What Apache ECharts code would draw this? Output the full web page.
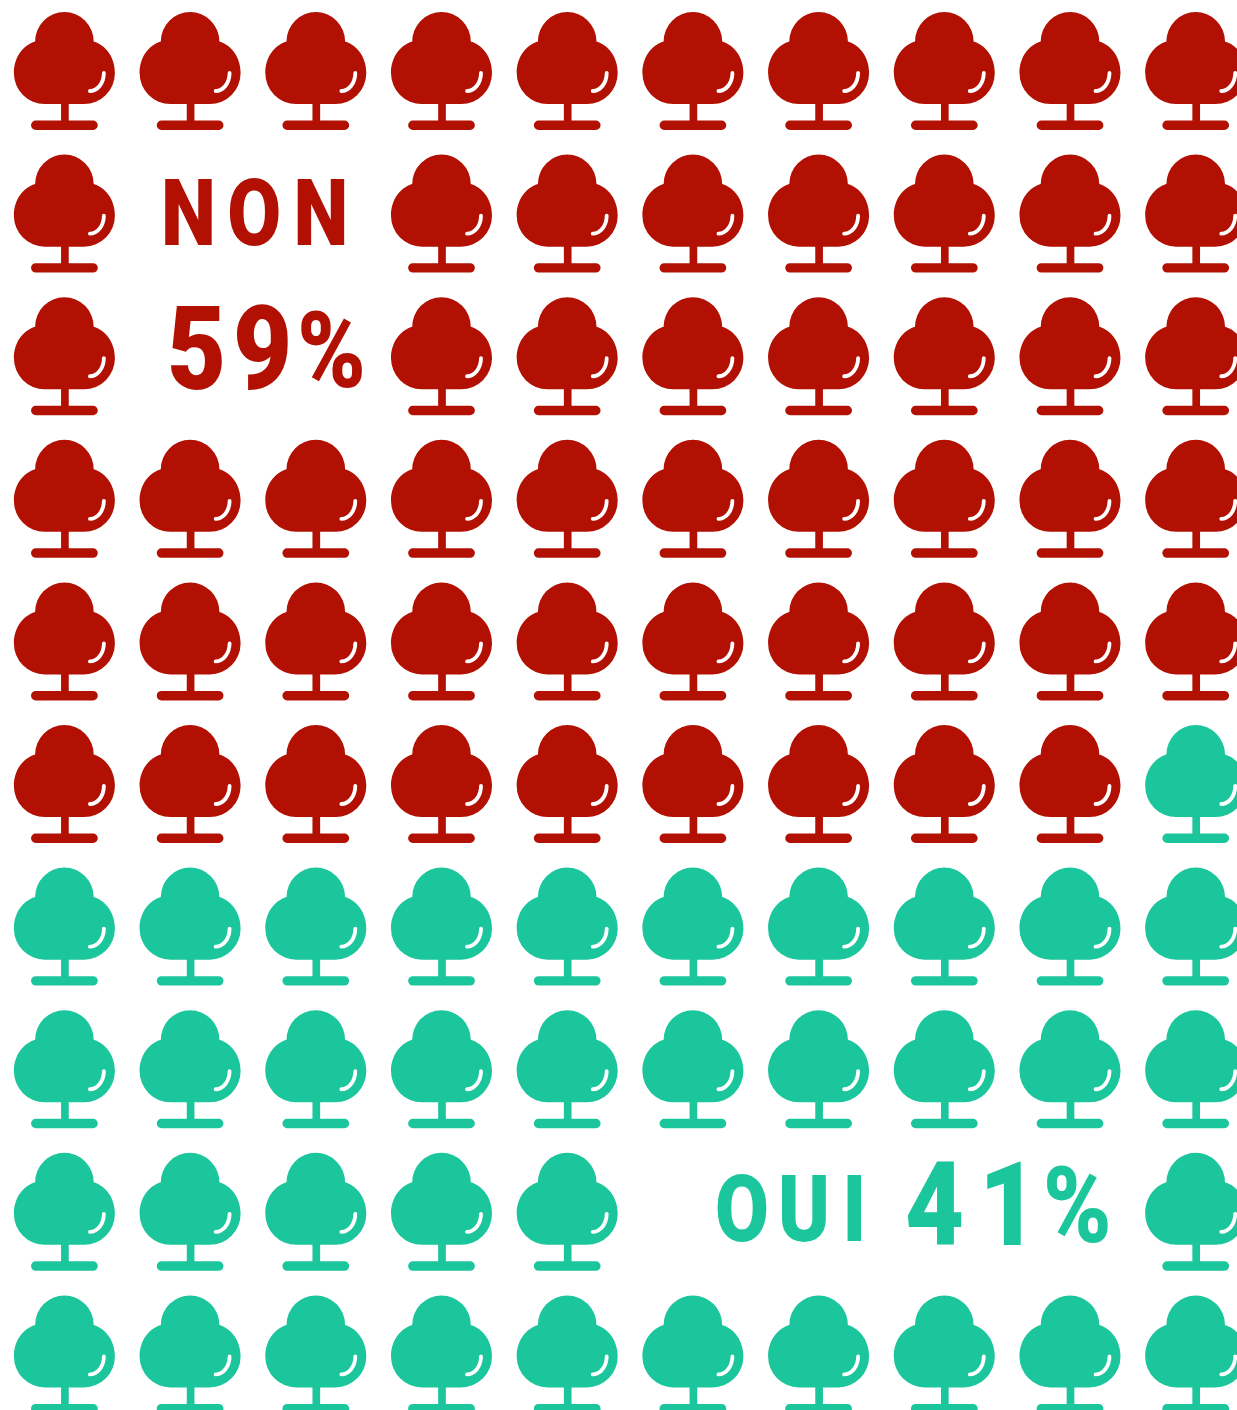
<!DOCTYPE html>
<html lang="fr">
<head>
<meta charset="utf-8">
<title>Non 59% / Oui 41%</title>
<style>
  html, body { margin: 0; padding: 0; background: #fff; }
  #chart { width: 1237px; height: 1410px; }
</style>
<script src="https://cdn.jsdelivr.net/npm/echarts@6/dist/echarts.min.js"></script>
</head>
<body>
<div id="chart"></div>
<script>
'use strict';

// N = arbre rouge, O = arbre vert, . = case laissee vide pour le texte
const gridRows = [
  'NNNNNNNNNN',
  'N..NNNNNNN',
  'N..NNNNNNN',
  'NNNNNNNNNN',
  'NNNNNNNNNN',
  'NNNNNNNNNO',
  'OOOOOOOOOO',
  'OOOOOOOOOO',
  'OOOOO....O',
  'OOOOOOOOOO',
];

const labelNon = ['N', 'O', 'N'];
const labelNonPct = ['5', '9', '%'];
const labelOui = ['O', 'U', 'I'];
const labelOuiPct = ['4', '1', '%'];

const RED = '#b11003';
const GREEN = '#1cc69c';
const FONT = 'Roboto';

const CELL_W = 125.7;
const CELL_H = 142.6;
const FIRST_X = 64.4;
const FIRST_Y = 71;

const TREE = 'path://M21 31A29 29 0 0 1 79 31C91 34.5 100 46.5 100 62A30.5 30.5 0 0 1 69.5 92.5H54.3V108.7H78.4'
  + 'A4.65 4.65 0 0 1 78.4 118H21.6A4.65 4.65 0 0 1 21.6 108.7H46.7V92.5H30.5A30.5 30.5 0 0 1 0 62C0 46.5 9 34.5 21 31Z'
  + 'M91 62A1.9 1.9 0 0 0 87.2 62A12 16 0 0 1 75.3 77.8A1.9 1.9 0 0 0 75.3 81.6A15.7 19.6 0 0 0 91 62Z';

function cellsOf(letter) {
  const out = [];
  gridRows.forEach((row, y) => {
    row.split('').forEach((c, x) => {
      if (c === letter) out.push([x, y]);
    });
  });
  return out;
}

function treeSeries(name, letter, color) {
  return {
    name,
    type: 'scatter',
    silent: true,
    symbol: TREE,
    symbolSize: [101, 118],
    itemStyle: { color, opacity: 1 },
    data: cellsOf(letter),
  };
}

// les lettres sont espacees via des fragments rich de largeur fixe
function textStyle(size, width) {
  return { fontFamily: FONT, fontWeight: 900, fontSize: size, width, align: 'left', lineHeight: size };
}

const richNon = { a: textStyle(92, 78), b: textStyle(92, 78), c: textStyle(92, 70) };
const richNonPct = { a: textStyle(116, 75), b: textStyle(116, 73), c: textStyle(105, 90) };
const richOui = { a: textStyle(92, 74), b: textStyle(92, 76), c: textStyle(92, 30) };
const richOuiPct = { a: textStyle(116, 84), b: textStyle(116, 73), c: textStyle(105, 90) };

const texts = [
  { pos: [0.768, 1.06], chars: labelNon, color: RED, rich: richNon, scaleX: 0.85 },
  { pos: [0.816, 2.03], chars: labelNonPct, color: RED, rich: richNonPct, scaleX: 0.88 },
  { pos: [5.176, 8.04], chars: labelOui, color: GREEN, rich: richOui, scaleX: 0.85 },
  { pos: [6.687, 8.03], chars: labelOuiPct, color: GREEN, rich: richOuiPct, scaleX: 0.88 },
];

function renderText(params, api) {
  const item = texts[params.dataIndex];
  const p = api.coord([api.value(0), api.value(1)]);
  const keys = ['a', 'b', 'c'];
  return {
    type: 'text',
    x: p[0],
    y: p[1],
    scaleX: item.scaleX,
    silent: true,
    style: {
      text: item.chars.map((c, i) => `{${keys[i]}|${c}}`).join(''),
      rich: item.rich,
      fill: item.color,
      align: 'left',
      verticalAlign: 'middle',
    },
  };
}

const chart = echarts.init(document.getElementById('chart'), null, { renderer: 'canvas' });
chart.setOption({
  backgroundColor: '#fff',
  animation: false,
  grid: { left: 0, right: 0, top: 0, bottom: 0 },
  xAxis: {
    type: 'value',
    show: false,
    min: -FIRST_X / CELL_W,
    max: (1237 - FIRST_X) / CELL_W,
  },
  yAxis: {
    type: 'value',
    show: false,
    inverse: true,
    min: -FIRST_Y / CELL_H,
    max: (1410 - FIRST_Y) / CELL_H,
  },
  series: [
    treeSeries('Non', 'N', RED),
    treeSeries('Oui', 'O', GREEN),
    {
      name: 'Textes',
      type: 'custom',
      silent: true,
      coordinateSystem: 'cartesian2d',
      renderItem: renderText,
      data: texts.map((t) => t.pos),
    },
  ],
});
</script>
</body>
</html>
